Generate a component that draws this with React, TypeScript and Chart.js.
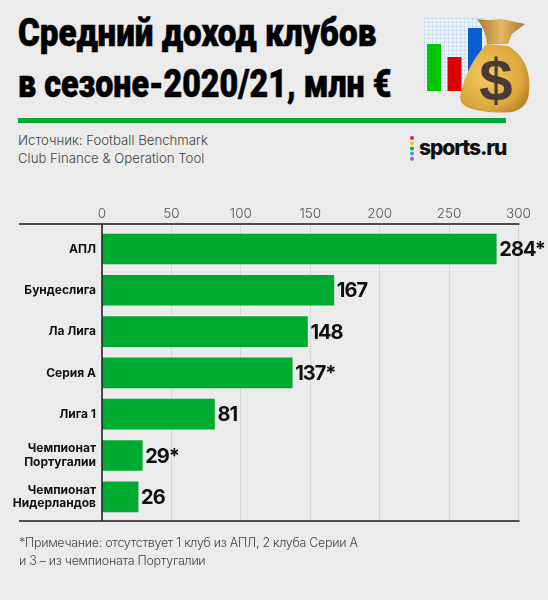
import React, { useEffect, useRef } from "react";
import { Chart, registerables } from "chart.js";

Chart.register(...registerables);

const categories = ["АПЛ", "Бундеслига", "Ла Лига", "Серия А", "Лига 1", "Чемпионат|Португалии", "Чемпионат|Нидерландов"];
const values = [284, 167, 148, 137, 81, 29, 26];
const valueLabels = ["284*", "167", "148", "137*", "81", "29*", "26"];
const xTicks = [0, 50, 100, 150, 200, 250, 300];
const titleLines = ["Средний доход клубов", "в сезоне-2020/21, млн €"];
const titleScales = [0.851, 0.827];
const sourceLines = ["Источник: Football Benchmark", "Club Finance & Operation Tool"];
const noteLines = ["*Примечание: отсутствует 1 клуб из АПЛ, 2 клуба Серии А", "и 3 – из чемпионата Португалии"];
const logoDots = ["#ee1a5c", "#fbc412", "#0aab3c", "#14aee8", "#a65fb5"];

const GREEN = "#00a92f";
const FONT = "Inter, 'Noto Sans', sans-serif";

const framePlugin = {
  id: "frame",
  afterDatasetsDraw(chart: any) {
    const { ctx, chartArea, scales } = chart;
    ctx.save();
    ctx.strokeStyle = "#1a1a1a";
    ctx.lineWidth = 1.5;
    ctx.beginPath();
    ctx.moveTo(19, chartArea.top);
    ctx.lineTo(chartArea.right + 1, chartArea.top);
    ctx.moveTo(19, chartArea.bottom);
    ctx.lineTo(chartArea.right + 1, chartArea.bottom);
    ctx.moveTo(chartArea.left, chartArea.top);
    ctx.lineTo(chartArea.left, chartArea.bottom);
    ctx.stroke();
    ctx.fillStyle = "#111";
    ctx.font = `700 20px ${FONT}`;
    ctx.textBaseline = "middle";
    (ctx as any).letterSpacing = "-1px";
    values.forEach((v, i) => {
      ctx.fillText(valueLabels[i], scales.x.getPixelForValue(v) + 3, scales.y.getPixelForValue(i) + 1);
    });
    ctx.restore();
  },
};

const text = (top: number, left: number, size: number, weight: number, color: string): React.CSSProperties => ({
  position: "absolute",
  top,
  left,
  fontSize: size,
  fontWeight: weight,
  color,
  fontFamily: FONT,
  whiteSpace: "nowrap",
  lineHeight: 1,
});

export default function App() {
  const ref = useRef<HTMLCanvasElement>(null);
  useEffect(() => {
    document.body.style.margin = "0";
    const chart = new Chart(ref.current!, {
      type: "bar",
      data: {
        datasets: [
          {
            data: values.map((v, i) => ({ x: v, y: i })),
            backgroundColor: GREEN,
            barThickness: 30,
          },
        ],
      },
      plugins: [framePlugin],
      options: {
        indexAxis: "y",
        animation: false,
        responsive: false,
        layout: { padding: { top: 200, bottom: 79, right: 29.5, left: 0 } },
        plugins: { legend: { display: false }, tooltip: { enabled: false } },
        scales: {
          x: {
            type: "linear",
            position: "top",
            min: 0,
            max: 300,
            afterBuildTicks: (s: any) => {
              s.ticks = xTicks.map((value) => ({ value }));
            },
            afterFit: (s: any) => {
              s.height = 24;
            },
            grid: { color: "#d6d6d6", lineWidth: 1, drawTicks: false },
            border: { display: false },
            ticks: { color: "#555", font: { family: FONT, size: 13.5, weight: 300 }, padding: 2, maxRotation: 0 },
          },
          y: {
            type: "linear",
            reverse: true,
            offset: false,
            min: -0.605,
            max: 6.586,
            afterBuildTicks: (s: any) => {
              s.ticks = categories.map((_, value) => ({ value }));
            },
            afterFit: (s: any) => {
              s.width = 102;
            },
            grid: { display: false, drawTicks: false },
            border: { display: false },
            ticks: {
              color: "#111",
              font: { family: FONT, size: 12, weight: 700, lineHeight: 1.15 },
              padding: 6,
              callback: (v: any) => categories[v]?.split("|"),
            },
          },
        },
      },
    } as any);
    return () => chart.destroy();
  }, []);

  return (
    <div style={{ position: "relative", width: 548, height: 600, background: "#ebebeb", overflow: "hidden" }}>
      {titleLines.map((t, i) => (
        <div
          key={t}
          style={{
            ...text(14 + i * 51, 18, 39, 900, "#000"),
            fontFamily: "Roboto, sans-serif",
            transformOrigin: "0 0",
            transform: `scaleX(${titleScales[i]})`,
            WebkitTextStroke: "0.6px #000",
          }}
        >
          {t}
        </div>
      ))}
      <svg width={120} height={110} style={{ position: "absolute", left: 420, top: 10 }}>
        <defs>
          <pattern id="gridPat" width={4} height={4} patternUnits="userSpaceOnUse">
            <rect width={4} height={4} fill="#eef3f8" />
            <path d="M4 0H0V4" fill="none" stroke="#bcd3e8" strokeWidth={1} />
          </pattern>
          <radialGradient id="bagGrad" cx="0.4" cy="0.45" r="0.7">
            <stop offset="0" stopColor="#f3cb62" />
            <stop offset="0.7" stopColor="#dca73c" />
            <stop offset="1" stopColor="#b07d24" />
          </radialGradient>
          <linearGradient id="neckGrad" x1="0" y1="0" x2="1" y2="0">
            <stop offset="0" stopColor="#a87a30" />
            <stop offset="0.5" stopColor="#e3b860" />
            <stop offset="1" stopColor="#a87a30" />
          </linearGradient>
        </defs>
        <rect x={3} y={8} width={62} height={73} fill="url(#gridPat)" />
        <rect x={7} y={34} width={14} height={47} fill="#00c800" />
        <rect x={27.5} y={47} width={14} height={34} fill="#dd0000" />
        <rect x={48} y={18} width={14} height={63} fill="#0a5fd0" />
        <path d="M57 9 Q70 11 80 9 Q92 11 105 14 L92 24 L88 34 L67 34 Q66 20 57 9 Z" fill="url(#neckGrad)" />
        <path d="M67 34 L88 36 Q112 50 109 82 Q108 98 92 102 Q70 104 52 99 Q40 96 40 86 Q48 52 67 34 Z" fill="url(#bagGrad)" />
        <text x={76} y={91} textAnchor="middle" fontFamily="'Liberation Sans', sans-serif" fontSize={60} fontWeight={700} fill="#4a3a36">$</text>
      </svg>
      <div style={{ position: "absolute", left: 18, top: 118, width: 488, height: 5, background: GREEN }} />
      {sourceLines.map((t, i) => (
        <div key={t} style={text(134 + i * 18, 18, 13.2, 300, "#444")}>{t}</div>
      ))}
      <svg width={8} height={30} style={{ position: "absolute", left: 408, top: 134 }}>
        {logoDots.map((c, i) => (
          <circle key={c} cx={4} cy={4 + i * 5.2} r={2} fill={c} />
        ))}
      </svg>
      <div style={{ ...text(137, 419, 21, 800, "#111"), letterSpacing: -1.1 }}>sports.ru</div>
      <canvas ref={ref} width={548} height={600} style={{ position: "absolute", left: 0, top: 0 }} />
      {noteLines.map((t, i) => (
        <div key={t} style={{ ...text(537 + i * 17.5, 19, 12.5, 300, "#444"), letterSpacing: -0.3 }}>{t}</div>
      ))}
    </div>
  );
}
